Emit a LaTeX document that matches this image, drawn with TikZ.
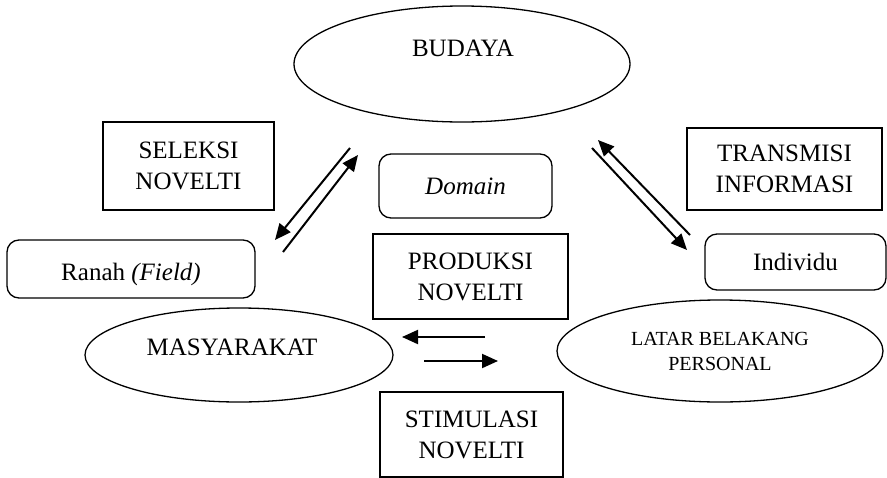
\documentclass[tikz,border=0pt]{standalone}
\usepackage{fontspec}
\setmainfont{Liberation Serif}
\usetikzlibrary{shapes.geometric,arrows.meta}
\begin{document}
\begin{tikzpicture}[x=1pt,y=-1pt,
  shapeline/.style={draw,line width=1.3pt,inner sep=0pt},
  oval/.style={shapeline,ellipse},
  sqbox/.style={shapeline,rectangle},
  rbox/.style={shapeline,rectangle,rounded corners=12pt},
  big/.style={font=\fontsize{25}{31}\selectfont,align=center},
  small/.style={font=\fontsize{20}{25}\selectfont,align=center},
  txt/.style={big,inner sep=0pt},
  flow/.style={line width=2pt,-{Triangle[length=16pt,width=14pt]}}]
\useasboundingbox (0,0) rectangle (887,477);

% ellipses
\node[oval,minimum width=336pt,minimum height=116pt] (budaya) at (462,64) {};
\node[txt] (tbudaya) at (463,48) {BUDAYA};
\node[oval,minimum width=308pt,minimum height=94pt] (masy) at (239,355) {};
\node[txt] (tmasy) at (232,347) {MASYARAKAT};
\node[oval,small,minimum width=326pt,minimum height=102pt] (latar) at (720,351) {LATAR BELAKANG\\PERSONAL};

% boxes
\node[sqbox,big,minimum width=171pt,minimum height=88pt] (seleksi) at (188.5,166) {SELEKSI\\NOVELTI};
\node[sqbox,big,minimum width=195pt,minimum height=82pt] (transmisi) at (784.5,169) {TRANSMISI\\INFORMASI};
\node[sqbox,big,minimum width=195pt,minimum height=85pt] (produksi) at (470.5,276.5) {PRODUKSI\\NOVELTI};
\node[sqbox,big,minimum width=183pt,minimum height=85pt] (stimulasi) at (471.5,434.5) {STIMULASI\\NOVELTI};

% rounded boxes
\node[rbox,big,minimum width=173pt,minimum height=64pt] (domain) at (465.5,186) {\itshape Domain};
\node[rbox,minimum width=248pt,minimum height=58pt] (ranah) at (131,269) {};
\node[txt] (tranah) at (131,274) {Ranah \textit{(Field)}};
\node[rbox,big,minimum width=181pt,minimum height=56pt] (individu) at (795.5,262) {Individu};

% arrow end points
\coordinate (l1s) at (350,148); \coordinate (l1e) at (275,240);
\coordinate (l2s) at (283,252); \coordinate (l2e) at (358,155);
\coordinate (m1s) at (485,337); \coordinate (m1e) at (402,337);
\coordinate (m2s) at (424,361); \coordinate (m2e) at (498,361);
\coordinate (r1s) at (690,235); \coordinate (r1e) at (598,140);
\coordinate (r2s) at (592,148); \coordinate (r2e) at (687,250);

\draw[flow] (l1s) -- (l1e);
\draw[flow] (l2s) -- (l2e);
\draw[flow] (m1s) -- (m1e);
\draw[flow] (m2s) -- (m2e);
\draw[flow] (r1s) -- (r1e);
\draw[flow] (r2s) -- (r2e);
\end{tikzpicture}
\end{document}
